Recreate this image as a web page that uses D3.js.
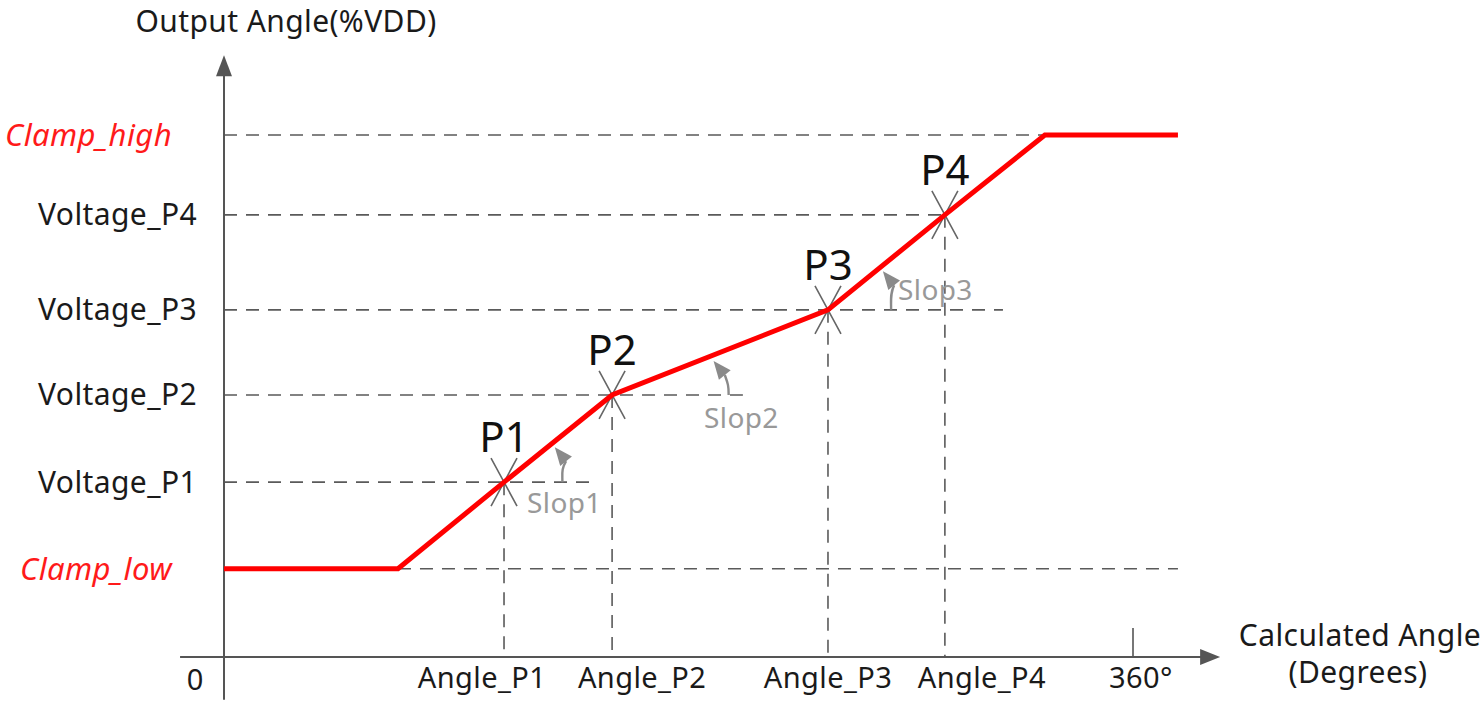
<!DOCTYPE html>
<html><head><meta charset="utf-8">
<script src="https://cdn.jsdelivr.net/npm/d3@7"></script>
<style>
html,body{margin:0;padding:0;background:#fff;}
svg{display:block;font-family:"Noto Sans","Open Sans",sans-serif;}
</style></head>
<body><svg id="c" width="1484" height="701"></svg>
<script>
// ---- data ----
const pointNames = ["P1","P2","P3","P4"];
const pointAngles = [110.9, 153.7, 239.2, 285.5];      // degrees
const pointVoltages = [33.5, 50.2, 66.5, 84.7];        // %VDD
const clampLow = 16.9, clampHigh = 100;
const clampLowAngle = 68.9, clampHighAngle = 325.1, endAngle = 377.8;
const curveAngles = [0, clampLowAngle, ...pointAngles, clampHighAngle, endAngle];
const curveValues = [clampLow, clampLow, ...pointVoltages, clampHigh, clampHigh];
const yLabels = ["Clamp_high","Voltage_P4","Voltage_P3","Voltage_P2","Voltage_P1","Clamp_low"];
const yLabelValues = [clampHigh, 84.7, 66.5, 50.2, 33.5, clampLow];
const hLineStart = [0, 0, 0, 0, 0, clampLowAngle];
const hLineEnd = [clampHighAngle, 285.5, 308.5, 205.5, 146, endAngle];
const xLabels = ["Angle_P1","Angle_P2","Angle_P3","Angle_P4","360°"];
const xLabelValues = [110.9, 153.7, 239.2, 285.5, 360];
const slopeNames = ["Slop1","Slop2","Slop3"];

// ---- style ----
const xLabelOffset = [-22, 30, 0, 37, 8];
const axisColor = "#555", dashColor = "#5a5a5a";
const LS = "0.4px";

const svg = d3.select("#c");
const x = d3.scaleLinear().domain([0, 360]).range([224, 1133]);
const y = d3.scaleLinear().domain([0, 100]).range([657, 135]);

// dashed horizontals
const g = svg.append("g");
yLabelValues.forEach((v,i)=>{
  g.append("line").attr("x1", x(hLineStart[i])).attr("x2", x(hLineEnd[i]))
   .attr("y1", y(v)).attr("y2", y(v))
   .attr("stroke", dashColor).attr("stroke-width", 1.6).attr("stroke-dasharray","13,9");
});
// dashed verticals
pointAngles.forEach((a,i)=>{
  g.append("line").attr("x1", x(a)).attr("x2", x(a))
   .attr("y1", y(pointVoltages[i])).attr("y2", y(0))
   .attr("stroke", dashColor).attr("stroke-width", 1.6).attr("stroke-dasharray","13,9");
});

// axes
const xAxisStart = -17.4, xAxisEnd = 394.5, yAxisTop = 115.3, yAxisBottom = -8.2;
svg.append("line").attr("x1", x(xAxisStart)).attr("x2", x(xAxisEnd)-16)
  .attr("y1", y(0)).attr("y2", y(0)).attr("stroke", axisColor).attr("stroke-width", 2);
svg.append("path").attr("d", `M${x(xAxisEnd)},${y(0)} L${x(xAxisEnd)-20},${y(0)-8} L${x(xAxisEnd)-20},${y(0)+8}Z`).attr("fill", axisColor);
svg.append("line").attr("x1", x(0)).attr("x2", x(0))
  .attr("y1", y(yAxisBottom)).attr("y2", y(yAxisTop)+16).attr("stroke", axisColor).attr("stroke-width", 2);
svg.append("path").attr("d", `M${x(0)},${y(yAxisTop)} L${x(0)-8},${y(yAxisTop)+21} L${x(0)+8},${y(yAxisTop)+21}Z`).attr("fill", axisColor);
// 360 tick
svg.append("line").attr("x1", x(360)).attr("x2", x(360)).attr("y1", y(0)).attr("y2", y(0)-29)
  .attr("stroke", axisColor).attr("stroke-width", 1.6);

// X markers
pointAngles.forEach((a,i)=>{
  const cx = x(a), cy = y(pointVoltages[i]);
  svg.append("path").attr("d", `M${cx-13},${cy-24}L${cx+13},${cy+24}M${cx+13},${cy-24}L${cx-13},${cy+24}`)
    .attr("stroke", "#666").attr("stroke-width", 1.6).attr("fill","none");
});

// red curve
const line = d3.line().x(d=>x(d[0])).y(d=>y(d[1]));
svg.append("path").datum(curveAngles.map((a,i)=>[a, curveValues[i]]))
  .attr("d", line).attr("fill","none").attr("stroke","#ff0000").attr("stroke-width",5)
  .attr("stroke-linejoin","miter");

// point labels
pointAngles.forEach((a,i)=>{
  svg.append("text").attr("x", x(a)).attr("y", y(pointVoltages[i]) - 30)
    .attr("text-anchor","middle").attr("font-size", 42).attr("fill","#111").text(pointNames[i]);
});

// slope arrows
slopeNames.forEach((s,i)=>{
  const x0 = x(pointAngles[i]), y0 = y(pointVoltages[i]);
  const x1 = x(pointAngles[i+1]), y1 = y(pointVoltages[i+1]);
  const bx = x0 + 0.54*(x1-x0), by = y0;
  const tf = 0.47;
  const tx = x0 + tf*(x1-x0), ty = y0 + tf*(y1-y0) + 6;
  const ang = Math.atan2(-15, -12);
  const L = 18, W = 7.5;
  const ux = Math.cos(ang), uy = Math.sin(ang);
  const px = -uy, py = ux;
  const bxh = tx - ux*L, byh = ty - uy*L;
  svg.append("path").attr("d", `M${bx},${by} C${bx},${by-10} ${bx-1},${byh+8} ${bxh},${byh}`)
    .attr("fill","none").attr("stroke","#8a8a8a").attr("stroke-width",2.4);
  svg.append("path").attr("d", `M${tx},${ty}L${bxh+px*W},${byh+py*W}L${bxh-px*W},${byh-py*W}Z`).attr("fill","#8a8a8a");
});
const slopeLabelPos = [[527, 513], [704, 428], [898, 300]];
slopeNames.forEach((s,i)=>{
  svg.append("text").attr("x", slopeLabelPos[i][0]).attr("y", slopeLabelPos[i][1])
    .attr("font-size", 28).attr("letter-spacing", LS).attr("fill","#999").text(s);
});

// y labels
yLabels.forEach((t,i)=>{
  const clamp = t.startsWith("Clamp");
  svg.append("text").attr("x", clamp ? 172 : 197).attr("y", y(yLabelValues[i]))
    .attr("dy","0.35em").attr("text-anchor","end").attr("font-size", clamp ? 31 : 30)
    .attr("letter-spacing", LS)
    .attr("font-style", clamp ? "italic" : "normal")
    .attr("fill", clamp ? "#ff1a1a" : "#1a1a1a").text(t);
});
// x labels
xLabels.forEach((t,i)=>{
  svg.append("text").attr("x", x(xLabelValues[i]) + xLabelOffset[i]).attr("y", 688)
    .attr("text-anchor","middle").attr("font-size", 29).attr("letter-spacing", LS).attr("fill","#1a1a1a").text(t);
});
svg.append("text").attr("x", 195).attr("y", 690).attr("text-anchor","middle").attr("font-size",29).attr("fill","#1a1a1a").text("0");
svg.append("text").attr("x", 286).attr("y", 32).attr("text-anchor","middle").attr("font-size",30).attr("letter-spacing", LS).attr("fill","#1a1a1a").text("Output Angle(%VDD)");
svg.append("text").attr("x", 1360).attr("y", 646).attr("text-anchor","middle").attr("font-size",30).attr("letter-spacing", LS).attr("fill","#1a1a1a").text("Calculated Angle");
svg.append("text").attr("x", 1358).attr("y", 683).attr("text-anchor","middle").attr("font-size",30).attr("letter-spacing", LS).attr("fill","#1a1a1a").text("(Degrees)");
</script></body></html>
